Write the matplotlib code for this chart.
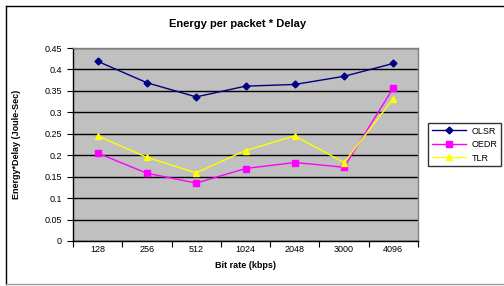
import matplotlib
matplotlib.use("Agg")
import matplotlib.pyplot as plt
from matplotlib.lines import Line2D
import numpy as np

categories = ["128", "256", "512", "1024", "2048", "3000", "4096"]
olsr = [0.419, 0.369, 0.336, 0.361, 0.365, 0.384, 0.414]
oedr = [0.205, 0.158, 0.135, 0.169, 0.183, 0.172, 0.357]
tlr = [0.245, 0.195, 0.159, 0.211, 0.245, 0.183, 0.332]
yticks = [0, 0.05, 0.1, 0.15, 0.2, 0.25, 0.3, 0.35, 0.4, 0.45]

plt.rcParams['font.family'] = ['Liberation Sans', 'DejaVu Sans']

W, H = 504, 286
fig = plt.figure(figsize=(W / 100, H / 100), dpi=100)
fig.patch.set_facecolor("white")

# outer frame
fig.add_artist(Line2D([6 / W, 6 / W], [1 - 6 / H, 1 - 284 / H], color="black", lw=1.0, transform=fig.transFigure))
fig.add_artist(Line2D([6 / W, 1.0], [1 - 6 / H, 1 - 6 / H], color="black", lw=1.0, transform=fig.transFigure))
fig.add_artist(Line2D([6 / W, 1.0], [1 - 284 / H, 1 - 284 / H], color="#999999", lw=1.0, transform=fig.transFigure))

left, right, top, bottom = 73, 418, 48, 241
ax = fig.add_axes([left / W, 1 - bottom / H, (right - left) / W, (bottom - top) / H])
ax.set_facecolor("#C0C0C0")

x = np.arange(len(categories))
ax.plot(x, olsr, color="#000080", marker="D", markersize=3.5, lw=1.0, label="OLSR")
ax.plot(x, oedr, color="#FF00FF", marker="s", markersize=4.5, lw=1.0, label="OEDR")
ax.plot(x, tlr, color="#FFFF00", marker="^", markersize=4.5, lw=1.0, label="TLR")

ax.set_xlim(-0.5, len(categories) - 0.5)
ax.set_ylim(0, 0.45)
ax.set_yticks(yticks)
ax.set_yticklabels([f"{v:g}" for v in yticks], fontsize=6.5)
ax.yaxis.grid(True, color="black", lw=1.0)
ax.set_axisbelow(True)

ax.set_xticks(np.arange(-0.5, len(categories), 1.0))
ax.set_xticklabels([])
ax.set_xticks(x, minor=True)
ax.set_xticklabels(categories, minor=True, fontsize=6.5)
ax.tick_params(axis="x", which="minor", length=0, pad=3)
ax.tick_params(axis="x", which="major", length=4, direction="out")
ax.tick_params(axis="y", length=4, direction="out", pad=4)

for s in ["top", "right"]:
    ax.spines[s].set_color("#808080")
    ax.spines[s].set_linewidth(1.0)
for s in ["left", "bottom"]:
    ax.spines[s].set_color("black")
    ax.spines[s].set_linewidth(1.0)

ax.set_xlabel("Bit rate (kbps)", fontsize=6.5, fontweight="bold", labelpad=5)
ax.set_ylabel("Energy*Delay (Joule-Sec)", fontsize=6.5, fontweight="bold", labelpad=17)
fig.text(238 / W, 1 - 24 / H, "Energy per packet * Delay", fontsize=8, fontweight="bold",
         ha="center", va="center")

leg = fig.legend(loc="upper left", bbox_to_anchor=(428 / W, 1 - 123 / H), fontsize=6.5,
                 frameon=True, fancybox=False, edgecolor="black", borderpad=0.4,
                 handlelength=3.8, labelspacing=0.5, handletextpad=0.6, borderaxespad=0)
leg.get_frame().set_linewidth(1.0)

fig.savefig("out.png", dpi=100, facecolor="white")
